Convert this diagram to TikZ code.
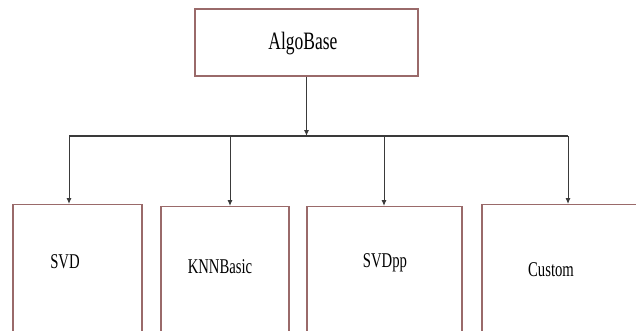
\documentclass[tikz,border=0pt]{standalone}
\usepackage{fontspec}
\setmainfont{Liberation Serif}
\usetikzlibrary{arrows.meta,positioning}

\definecolor{boxline}{HTML}{9A6A6A}
\definecolor{wire}{HTML}{3A3A3A}
\newcommand{\narrow}[1]{\scalebox{.7}[1]{#1}}

\begin{document}
\begin{tikzpicture}[
  x=1pt, y=1pt,
  base/.style = {
    rectangle,
    draw=boxline,
    line width=1.2pt,
    fill=white,
    inner sep=0pt
  },
  box/.style = {base, anchor=north, minimum width=#1, minimum height=150pt},
  lbl/.style = {inner sep=0pt, anchor=base, font=\fontsize{21}{21}\selectfont},
  arr/.style = {draw=wire, line width=1pt, -{Latex[length=6pt,width=5pt]}},
  bus/.style = {draw=wire, line width=1.6pt},
  ]
  \useasboundingbox (0,0) rectangle (636,330);
  \clip (0,0) rectangle (636,330);
  % top box
  \node[base, minimum width=223pt, minimum height=67pt] (algo) at (306.5,287.5) {};
  \node[lbl, font=\fontsize{25}{25}\selectfont] (algoT) at (303,280) {\narrow{AlgoBase}};
  % lower boxes
  \node[box=129pt] (svd) at (77.5,126) {};
  \node[box=128pt] (knn) at (225,124) {};
  \node[box=155pt] (svdpp) at (384.5,124) {};
  \node[box=168pt] (custom) at (566,126) {};
  \node[lbl] (svdT) at (65,62) {\narrow{SVD}};
  \node[lbl] (knnT) at (220,57) {\narrow{KNNBasic}};
  \node[lbl] (svdppT) at (385,63) {\narrow{SVDpp}};
  \node[lbl] (customT) at (551,54) {\narrow{Custom}};
  % bus
  \coordinate (busA) at (69,194);
  \coordinate (busB) at (230,194);
  \coordinate (busC) at (384,194);
  \coordinate (busD) at (568,194);
  \coordinate (busM) at (algo.south |- busA);
  \draw[bus] (busA) -- (busD);
  \draw[arr] (algo) -- (busM);
  \draw[arr] (busA) -- (busA |- svd.north);
  \draw[arr] (busB) -- (busB |- knn.north);
  \draw[arr] (busC) -- (busC |- svdpp.north);
  \draw[arr] (busD) -- (busD |- custom.north);
\end{tikzpicture}
\end{document}
